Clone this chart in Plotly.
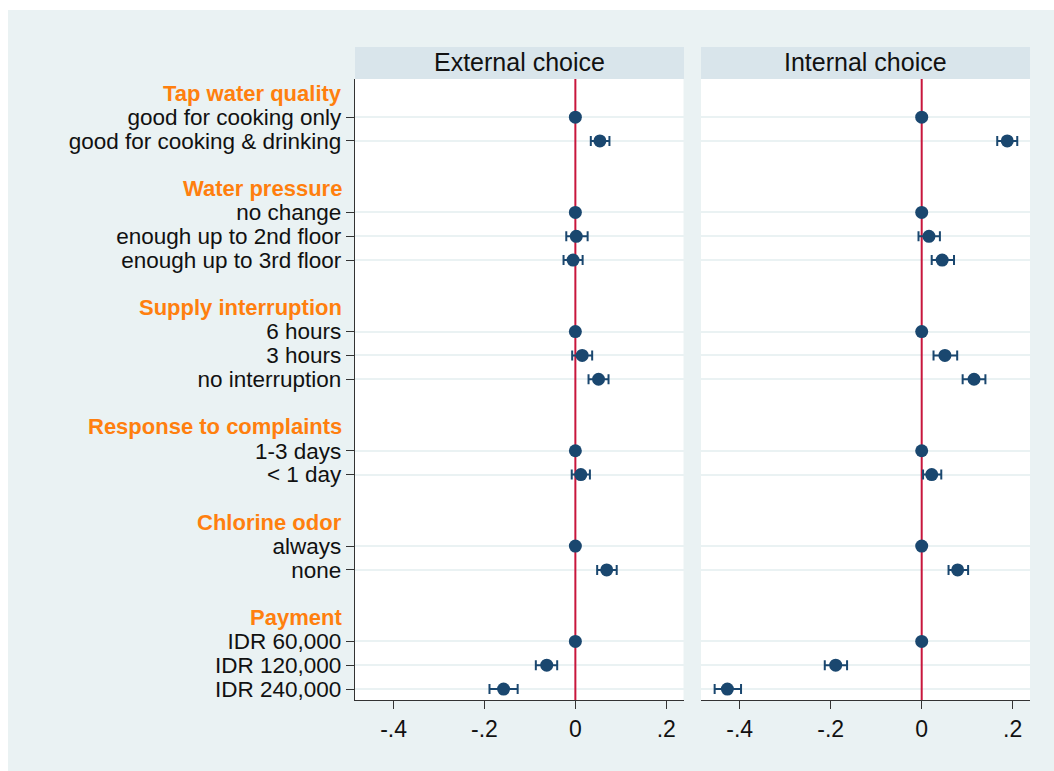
import plotly.graph_objects as go

# Attribute groups and their levels (top to bottom)
groups = ["Tap water quality", "Water pressure", "Supply interruption",
          "Response to complaints", "Chlorine odor", "Payment"]
levels = [
    ["good for cooking only", "good for cooking & drinking"],
    ["no change", "enough up to 2nd floor", "enough up to 3rd floor"],
    ["6 hours", "3 hours", "no interruption"],
    ["1-3 days", "< 1 day"],
    ["always", "none"],
    ["IDR 60,000", "IDR 120,000", "IDR 240,000"],
]

panels = ["External choice", "Internal choice"]

# Coefficients and 95% confidence bounds (base levels are zero, no interval)
ext_coef = [0, 0.054, 0, 0.002, -0.005, 0, 0.015, 0.051, 0, 0.012, 0, 0.069, 0, -0.063, -0.158]
ext_lo = [None, 0.034, None, -0.020, -0.026, None, -0.007, 0.029, None, -0.008, None, 0.048, None, -0.087, -0.189]
ext_hi = [None, 0.075, None, 0.027, 0.016, None, 0.037, 0.073, None, 0.032, None, 0.091, None, -0.040, -0.127]

int_coef = [0, 0.188, 0, 0.016, 0.045, 0, 0.051, 0.115, 0, 0.022, 0, 0.079, 0, -0.189, -0.427]
int_lo = [None, 0.166, None, -0.007, 0.022, None, 0.026, 0.090, None, 0.003, None, 0.059, None, -0.213, -0.455]
int_hi = [None, 0.210, None, 0.040, 0.071, None, 0.078, 0.140, None, 0.043, None, 0.102, None, -0.164, -0.397]

x_ticks = [-0.4, -0.2, 0, 0.2]
x_ticktext = ["-.4", "-.2", "0", ".2"]

# Row positions: a header slot, the levels, then a blank slot between groups
header_pos, item_pos, item_lab = [], [], []
slot = 0
for g, lv in zip(groups, levels):
    header_pos.append(slot)
    slot += 1
    for name in lv:
        item_pos.append(slot)
        item_lab.append(name)
        slot += 1
    slot += 1

W, H = 1054, 771
L, R, T, B = 355, 1030, 79, 700
pw, ph = R - L, B - T


def px(x):
    return (x - L) / pw


def py(y):
    return (B - y) / ph


NAVY = "#1a476f"
RED = "#c8163c"
BG = "#eaf2f3"
STRIP = "#d9e5eb"
ORANGE = "#ff7f0e"
FONT = "Liberation Sans, Arial, sans-serif"

yr = [item_pos[-1] + 0.46, -0.6]

fig = go.Figure()

series = [(ext_coef, ext_lo, ext_hi), (int_coef, int_lo, int_hi)]
for i, (coef, lo, hi) in enumerate(series):
    xa = "x" if i == 0 else "x2"
    ya = "y" if i == 0 else "y2"
    # reference line at zero
    fig.add_trace(go.Scatter(x=[0, 0], y=yr, mode="lines", xaxis=xa, yaxis=ya,
                             line=dict(color=RED, width=2), hoverinfo="skip",
                             showlegend=False))
    plus = [(h - c) if h is not None else 0 for c, h in zip(coef, hi)]
    minus = [(c - l) if l is not None else 0 for c, l in zip(coef, lo)]
    fig.add_trace(go.Scatter(
        x=coef, y=item_pos, mode="markers", xaxis=xa, yaxis=ya,
        marker=dict(color=NAVY, size=13, line=dict(width=0)),
        error_x=dict(type="data", symmetric=False, array=plus,
                     arrayminus=minus, color=NAVY, thickness=2, width=5),
        showlegend=False))

xcommon = dict(range=[-0.485, 0.238], tickvals=x_ticks, ticktext=x_ticktext,
               ticks="outside", ticklen=8, tickwidth=1.3, tickcolor="#333",
               showline=True, linecolor="#333", linewidth=1.3, showgrid=False,
               zeroline=False, tickfont=dict(family=FONT, size=23, color="#111"))

fig.update_layout(
    width=W, height=H,
    margin=dict(l=L, r=W - R, t=T, b=H - B, pad=0),
    paper_bgcolor=BG, plot_bgcolor="white",
    xaxis=dict(domain=[0, px(683.5)], anchor="y", **xcommon),
    xaxis2=dict(domain=[px(701), 1], anchor="y2", **xcommon),
    yaxis=dict(range=yr, tickvals=item_pos, ticktext=item_lab, ticks="outside",
               ticklen=8, tickwidth=1.3, tickcolor="#333", showline=True,
               linecolor="#333", linewidth=1.3, showgrid=True, gridcolor=BG,
               gridwidth=2, zeroline=False, anchor="x",
               tickfont=dict(family=FONT, size=22.5, color="#111")),
    yaxis2=dict(range=yr, tickvals=item_pos, showticklabels=False, ticks="",
                showline=False, showgrid=True, gridcolor=BG, gridwidth=2,
                zeroline=False, anchor="x2", matches="y"),
)

shapes = [
    # white page margin on the top and left edges
    dict(type="rect", xref="paper", yref="paper", x0=px(0), x1=px(W), y0=py(10), y1=py(0),
         fillcolor="white", line=dict(width=0)),
    dict(type="rect", xref="paper", yref="paper", x0=px(0), x1=px(8), y0=py(H), y1=py(0),
         fillcolor="white", line=dict(width=0)),
    # panel title strips
    dict(type="rect", xref="paper", yref="paper", x0=0, x1=px(684), y0=1, y1=py(47),
         fillcolor=STRIP, line=dict(width=0)),
    dict(type="rect", xref="paper", yref="paper", x0=px(701), x1=1, y0=1, y1=py(47),
         fillcolor=STRIP, line=dict(width=0)),
]
fig.update_layout(shapes=shapes)

ann = []
for name, x0, x1 in [(panels[0], 355, 684), (panels[1], 701, 1030)]:
    ann.append(dict(text=name, xref="paper", yref="paper", x=px((x0 + x1) / 2), y=py(62),
                    xanchor="center", yanchor="middle", showarrow=False,
                    font=dict(family=FONT, size=25, color="#111")))
for g, pos in zip(groups, header_pos):
    ann.append(dict(text="<b>" + g + "</b>", xref="paper", yref="y", x=px(343.5), y=pos,
                    xanchor="right", yanchor="middle", showarrow=False,
                    font=dict(family=FONT, size=22, color=ORANGE)))
fig.update_layout(annotations=ann)

fig.write_html("out.html")
